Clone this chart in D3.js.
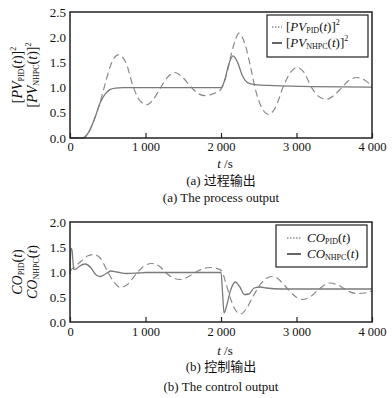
<!DOCTYPE html>
<html><head><meta charset="utf-8">
<script src="https://cdn.jsdelivr.net/npm/d3@7"></script>
<style>body{margin:0;background:#fff}svg{display:block}text{font-family:"Liberation Serif","Times New Roman",serif;fill:#111}</style>
</head><body><svg width="392" height="398"></svg>
<script>
// ---------- data ----------
const xTicks = [0, 1000, 2000, 3000, 4000];
const xTickLabels = ["0", "1 000", "2 000", "3 000", "4 000"];
const yTicksTop = [0, 0.5, 1.0, 1.5, 2.0, 2.5];
const yTicksBot = [0, 0.5, 1.0, 1.5, 2.0];

const pvNhpc = [[0,0],[170,0],[250,0.12],[330,0.4],[400,0.7],[470,0.88],[530,0.96],[600,0.99],[700,1.0],[2000,1.0],[2050,1.15],[2100,1.45],[2160,1.63],[2220,1.5],[2280,1.25],[2350,1.1],[2450,1.06],[2700,1.04],[3200,1.02],[4000,1.01]];
const pvPid = [[0,0],[170,0],[250,0.12],[330,0.4],[400,0.72],[470,1.1],[540,1.45],[640,1.65],[740,1.5],[830,1.05],[920,0.75],[1020,0.66],[1110,0.78],[1200,1.0],[1300,1.22],[1390,1.3],[1480,1.22],[1610,1.0],[1700,0.88],[1790,0.84],[1900,0.88],[2000,0.97],[2080,1.3],[2160,1.8],[2240,2.08],[2320,1.85],[2400,1.35],[2450,1.0],[2540,0.6],[2630,0.47],[2720,0.6],[2820,1.0],[2920,1.3],[3010,1.4],[3100,1.3],[3200,1.0],[3300,0.82],[3400,0.77],[3500,0.85],[3600,1.0],[3700,1.15],[3800,1.2],[3900,1.15],[4000,1.03]];
const coNhpc = [[0,0.95],[12,1.47],[25,1.45],[50,1.05],[80,1.06],[130,1.12],[200,1.16],[280,1.08],[340,0.95],[400,0.91],[470,0.96],[540,1.02],[620,1.0],[750,0.97],[900,0.98],[1000,0.99],[2000,0.99],[2020,0.6],[2040,0.18],[2070,0.3],[2130,0.65],[2190,0.8],[2250,0.7],[2310,0.55],[2370,0.56],[2440,0.68],[2520,0.7],[2600,0.68],[2800,0.66],[4000,0.66]];
const coPid = [[0,1.0],[20,1.05],[60,1.1],[150,1.22],[230,1.32],[310,1.35],[400,1.28],[500,1.0],[580,0.8],[670,0.69],[760,0.75],[870,0.95],[980,1.12],[1080,1.17],[1180,1.12],[1280,0.97],[1370,0.88],[1460,0.85],[1560,0.9],[1670,1.0],[1770,1.07],[1860,1.09],[1950,1.07],[2010,1.02],[2060,0.8],[2130,0.45],[2200,0.22],[2260,0.16],[2330,0.25],[2420,0.5],[2520,0.75],[2600,0.87],[2670,0.91],[2750,0.87],[2850,0.72],[2960,0.54],[3070,0.45],[3180,0.5],[3300,0.66],[3440,0.78],[3550,0.74],[3680,0.62],[3800,0.57],[3900,0.58],[4000,0.62]];

// ---------- drawing ----------
const svg = d3.select("svg");
svg.append("rect").attr("width",392).attr("height",398).attr("fill","#fff");
const L = 70, R = 372;
const x = d3.scaleLinear().domain([0,4000]).range([L,R]);

function panel(o) {
  const {top, bottom, yMax, yTicks, pid, nhpc, yl1, yl2, cap1, cap2, legBox, legRows, legSampleX, legTextX, tickPad, tY, c1Y, c2Y} = o;
  const y = d3.scaleLinear().domain([0,yMax]).range([bottom, top]);
  const g = svg.append("g");
  const line = d3.line().x(d=>x(d[0])).y(d=>y(d[1])).curve(d3.curveMonotoneX);
  g.append("path").datum(pid).attr("d",line).attr("fill","none").attr("stroke","#8a8a8a").attr("stroke-width",1.2).attr("stroke-dasharray","7,4");
  g.append("path").datum(nhpc).attr("d",line).attr("fill","none").attr("stroke","#7a7a7a").attr("stroke-width",1.3);
  g.append("rect").attr("x",L).attr("y",top).attr("width",R-L).attr("height",bottom-top).attr("fill","none").attr("stroke","#222").attr("stroke-width",1.5);
  const xa = g.append("g").attr("transform",`translate(0,${bottom})`)
    .call(d3.axisBottom(x).tickValues(xTicks).tickSizeInner(-5).tickSizeOuter(0).tickPadding(tickPad).tickFormat((d,i)=>xTickLabels[i]));
  xa.select(".domain").remove();
  xa.selectAll("line").attr("stroke","#222").attr("stroke-width",1.2);
  xa.selectAll("text").attr("font-size",12.5).attr("font-family","Liberation Serif");
  const ya = g.append("g").attr("transform",`translate(${L},0)`)
    .call(d3.axisLeft(y).tickValues(yTicks).tickSize(0).tickPadding(4).tickFormat(d3.format(".1f")));
  ya.select(".domain").remove();
  ya.selectAll("text").attr("font-size",13).attr("font-family","Liberation Serif");
  const xt = g.append("text").attr("x",225).attr("y",tY).attr("text-anchor","middle").attr("font-size",13);
  xt.append("tspan").attr("font-style","italic").text("t");
  xt.append("tspan").text(" /s");
  g.append("text").attr("x",221).attr("y",c1Y).attr("text-anchor","middle").attr("font-size",13)
    .style("font-family","'Liberation Serif','Noto Sans CJK SC',serif").text(cap1);
  g.append("text").attr("x",221).attr("y",c2Y).attr("text-anchor","middle").attr("font-size",13).text(cap2);
  const cy = (top+bottom)/2;
  [[yl1,22],[yl2,37]].forEach(([fn,xx])=>{
    const t = g.append("text").attr("transform",`translate(${xx},${cy}) rotate(-90)`).attr("text-anchor","middle").attr("font-size",14);
    fn(t);
  });
  g.append("rect").attr("x",legBox[0]).attr("y",legBox[1]).attr("width",legBox[2]).attr("height",legBox[3]).attr("fill","#fff").attr("stroke","#222").attr("stroke-width",1.2);
  g.append("line").attr("x1",legSampleX[0]).attr("x2",legSampleX[1]).attr("y1",legRows[0]).attr("y2",legRows[0]).attr("stroke","#555").attr("stroke-width",1).attr("stroke-dasharray","1.5,1.5");
  g.append("line").attr("x1",legSampleX[0]).attr("x2",legSampleX[1]).attr("y1",legRows[1]).attr("y2",legRows[1]).attr("stroke","#333").attr("stroke-width",1.5);
  [yl1,yl2].forEach((fn,i)=>{
    const t = g.append("text").attr("x",legTextX).attr("y",legRows[i]+4).attr("font-size",13);
    fn(t);
  });
}

function pvLabel(sub){ return t=>{
  t.append("tspan").text("[");
  t.append("tspan").attr("font-style","italic").text("PV");
  t.append("tspan").attr("font-size",8).attr("dy",2).text(sub);
  t.append("tspan").attr("dy",-2).text("(");
  t.append("tspan").attr("font-style","italic").text("t");
  t.append("tspan").text(")]");
  t.append("tspan").attr("font-size",8).attr("dy",-6).text("2");
};}
function coLabel(sub){ return t=>{
  t.append("tspan").attr("font-style","italic").text("CO");
  t.append("tspan").attr("font-size",8).attr("dy",2).text(sub);
  t.append("tspan").attr("dy",-2).text("(");
  t.append("tspan").attr("font-style","italic").text("t");
  t.append("tspan").text(")");
};}

panel({top:12,bottom:138,yMax:2.5,yTicks:yTicksTop,pid:pvPid,nhpc:pvNhpc,yl1:pvLabel("PID"),yl2:pvLabel("NHPC"),
  cap1:"(a) 过程输出",cap2:"(a) The process output",legBox:[267,15,101,42],legRows:[27,43],legSampleX:[272,282],legTextX:286,
  tickPad:4,tY:168,c1Y:185,c2Y:202});
panel({top:222,bottom:322,yMax:2.0,yTicks:yTicksBot,pid:coPid,nhpc:coNhpc,yl1:coLabel("PID"),yl2:coLabel("NHPC"),
  cap1:"(b) 控制输出",cap2:"(b) The control output",legBox:[276,225,91,42],legRows:[238,254],legSampleX:[287,301],legTextX:307,
  tickPad:5,tY:355,c1Y:371,c2Y:391});
</script></body></html>
